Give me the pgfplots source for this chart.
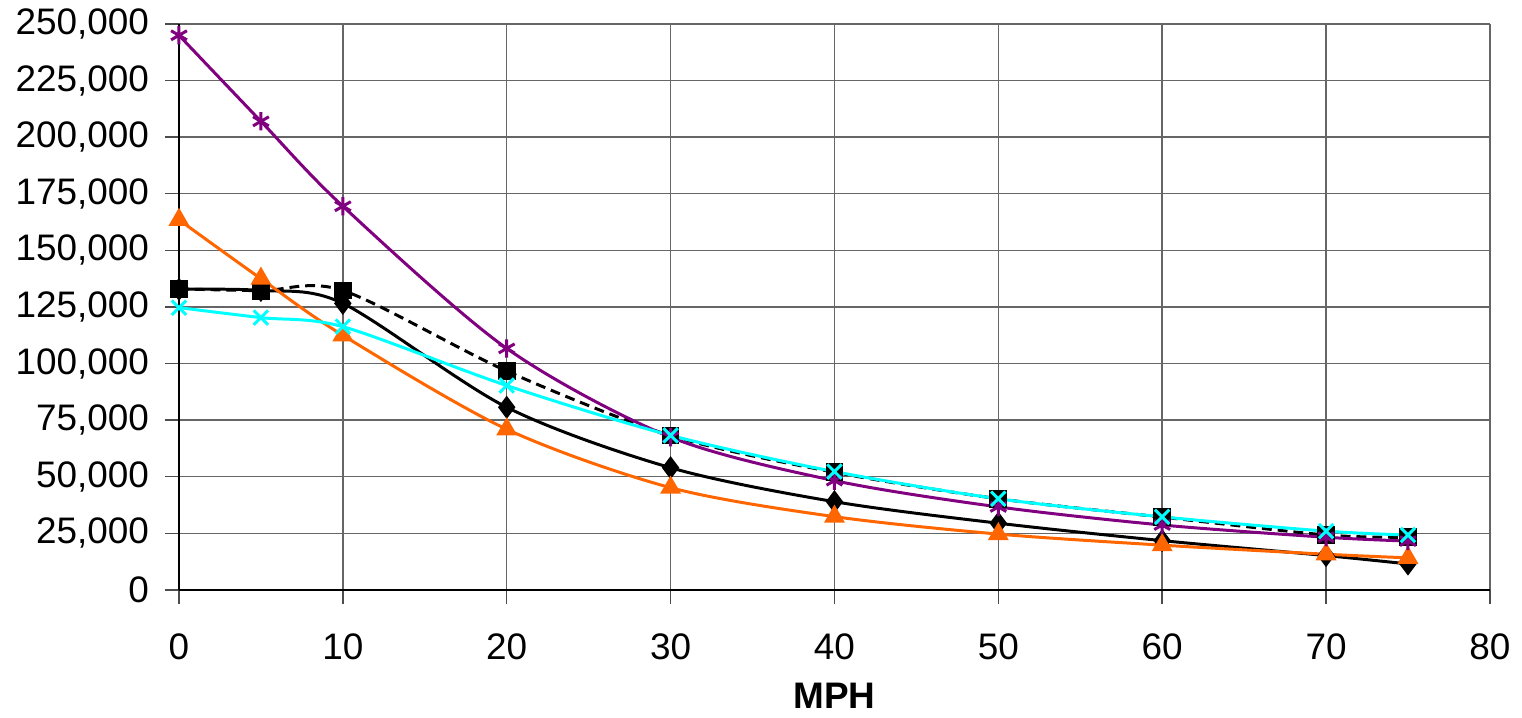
\documentclass[border=0pt]{standalone}
\usepackage{fontspec}
\setmainfont{Liberation Sans}
\usepackage{pgfplots}
\pgfplotsset{compat=1.18}
\definecolor{cOrange}{HTML}{FF6600}
\definecolor{cPurple}{HTML}{800080}
\definecolor{cCyan}{HTML}{00FFFF}
\begin{document}
\begin{tikzpicture}
\useasboundingbox (-50.93pt,-36.14pt) rectangle (382.13pt,167.87pt);
\begin{axis}[
  at={(0,0)}, anchor=south west,
  scale only axis,
  width=373.0pt, height=161.05pt,
  xmin=0, xmax=80, ymin=0, ymax=250000,
  xtick={0,10,...,80},
  ytick={0,25000,...,250000},
  scaled y ticks=false,
  /pgf/number format/.cd, 1000 sep={,}, fixed, assume math mode=true,
  /pgfplots/.cd,
  grid=major,
  major grid style={black!60, line width=0.4pt},
  axis line style={black, line width=0.4pt},
  axis x line*=bottom, axis y line*=left,
  tick align=outside,
  major tick length=4pt,
  tick style={black!70, line width=0.4pt},
  ticklabel style={font=\fontsize{10.5}{12.6}\selectfont},
  xticklabel style={yshift=-5pt},
  yticklabel style={xshift=-1pt},
  xlabel={\textbf{MPH}},
  xlabel style={font=\fontsize{10.5}{12.6}\selectfont, yshift=0.3pt},
  every axis plot/.append style={line width=0.85pt, smooth, tension=0.5},
  clip=false,
]
% squares, dashed
\addplot[black, dash pattern=on 2.8pt off 1.7pt, mark=square*, mark size=2.1pt, mark options={solid}]
  coordinates {(0,133000) (5,132200) (10,132300) (20,96700) (30,68200) (40,52000) (50,40300) (60,32200) (70,24300) (75,23300)};
% diamonds, solid
\addplot[black, mark=diamond*, mark size=2.6pt]
  coordinates {(0,132800) (5,132300) (10,126600) (20,80700) (30,54000) (40,39000) (50,29500) (60,21800) (70,15200) (75,11500)};
% orange triangles
\addplot[cOrange, mark=triangle*, mark size=2.6pt]
  coordinates {(0,163500) (5,137500) (10,112500) (20,71000) (30,45200) (40,32400) (50,24700) (60,19800) (70,15800) (75,14200)};
% purple asterisks
\addplot[cPurple, mark=asterisk, mark size=2.6pt, mark options={line width=0.85pt}]
  coordinates {(0,245000) (5,207000) (10,169500) (20,106700) (30,67500) (40,48300) (50,36700) (60,28700) (70,23300) (75,21600)};
% cyan crosses
\addplot[cCyan, mark=x, mark size=2.9pt, mark options={line width=0.85pt}]
  coordinates {(0,124700) (5,120300) (10,116300) (20,90300) (30,68300) (40,52300) (50,40300) (60,32300) (70,26000) (75,24300)};
\end{axis}
\end{tikzpicture}
\end{document}
